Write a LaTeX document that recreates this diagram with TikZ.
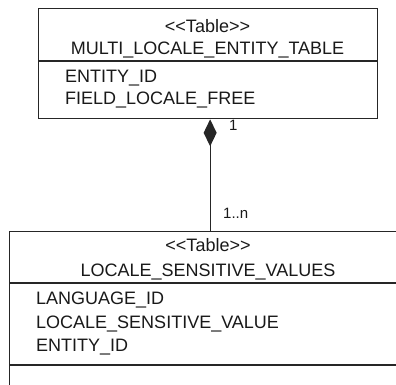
\documentclass[tikz,border=0pt]{standalone}
\usepackage{fontspec}
\setmainfont{Liberation Sans}
\usetikzlibrary{arrows.meta}
\begin{document}
\begin{tikzpicture}[x=1pt,y=-1pt,
  umlline/.style={draw=black!85, line width=1.3pt},
  tablebox/.style={umlline, rectangle, inner sep=0pt, anchor=north west},
  txt/.style={font=\fontsize{18}{20}\selectfont, inner sep=0pt, text=black!90},
  mult/.style={font=\fontsize{15}{17}\selectfont, inner sep=0pt, text=black!90, anchor=base west}
]
\useasboundingbox (0,0) rectangle (396,385);
\clip (0,0) rectangle (396,385);

% class boxes
\node[tablebox, minimum width=339pt, minimum height=110pt] (mlet) at (38,8) {};
\node[tablebox, minimum width=420pt, minimum height=200pt] (lsv) at (9,231) {};

% compartment dividers
\draw[umlline] ([yshift=-53pt]mlet.north west) -- ([yshift=-53pt]mlet.north east);
\draw[umlline] ([yshift=-52pt]lsv.north west) -- ([yshift=-52pt]lsv.north east);
\draw[umlline] ([yshift=-134pt]lsv.north west) -- ([yshift=-134pt]lsv.north east);

% MULTI_LOCALE_ENTITY_TABLE
\node[txt, anchor=base] (mlet-st) at (207.5,33) {{<}{<}Table{>}{>}};
\node[txt, anchor=base] (mlet-nm) at (207.5,55) {MULTI\_LOCALE\_ENTITY\_TABLE};
\node[txt, anchor=base west] (mlet-a1) at (65,83) {ENTITY\_ID};
\node[txt, anchor=base west] (mlet-a2) at (65,105) {FIELD\_LOCALE\_FREE};

% LOCALE_SENSITIVE_VALUES
\node[txt, anchor=base] (lsv-st) at (208,251.5) {{<}{<}Table{>}{>}};
\node[txt, anchor=base] (lsv-nm) at (208,276.5) {LOCALE\_SENSITIVE\_VALUES};
\node[txt, anchor=base west] (lsv-a1) at (36,304) {LANGUAGE\_ID};
\node[txt, anchor=base west] (lsv-a2) at (36,328) {LOCALE\_SENSITIVE\_VALUE};
\node[txt, anchor=base west] (lsv-a3) at (36,351.5) {ENTITY\_ID};

% composition
\draw[umlline, {Diamond[length=27pt,width=13pt]}-]
  ([xshift=2pt]mlet.south) -- ([xshift=2pt]mlet.south |- lsv.north);
\node[mult] (m-one) at (229,131) {1};
\node[mult] (m-many) at (223,218) {1..n};
\end{tikzpicture}
\end{document}
